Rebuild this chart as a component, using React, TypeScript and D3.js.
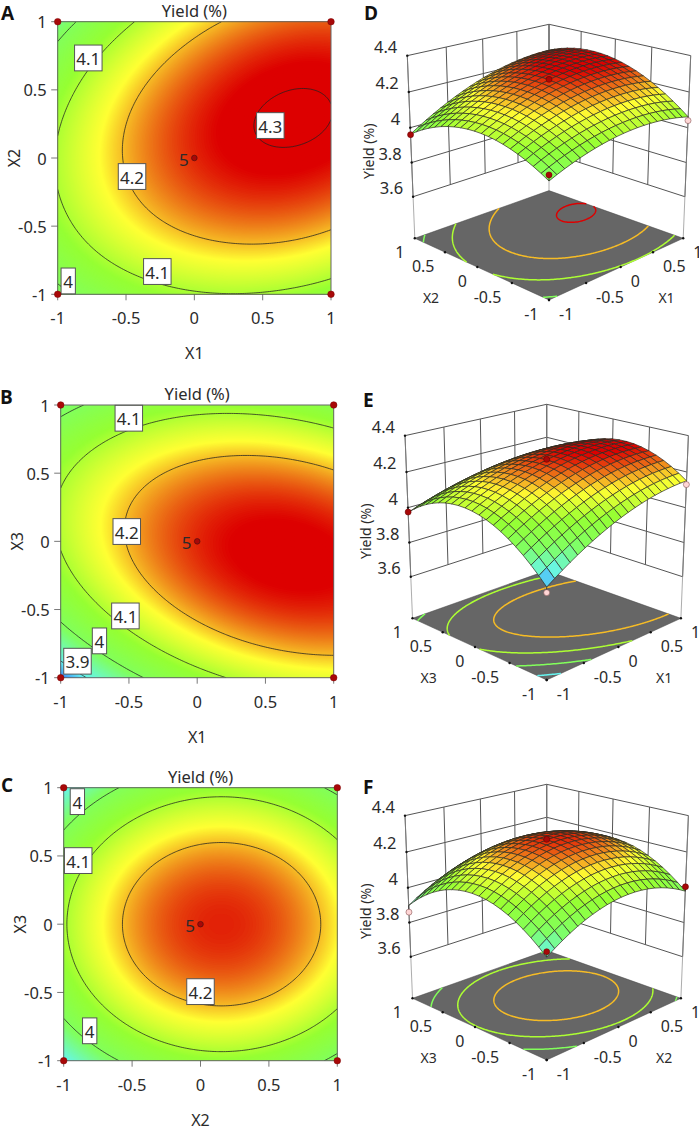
import React from "react";
import * as d3 from "d3";

// Yield, rows from y = -1 up to y = 1, columns from x = -1 to x = 1
const gridNodes = [-1, -0.5, 0, 0.5, 1];
const yieldX1X2 = [
  [3.981, 4.055, 4.093, 4.095, 4.061],
  [4.076, 4.163, 4.213, 4.228, 4.206],
  [4.105, 4.204, 4.267, 4.294, 4.285],
  [4.067, 4.179, 4.254, 4.294, 4.297],
  [3.963, 4.087, 4.175, 4.227, 4.243],
];
const yieldX1X3 = [
  [3.847, 3.977, 4.071, 4.129, 4.151],
  [4.025, 4.139, 4.218, 4.26, 4.267],
  [4.105, 4.204, 4.267, 4.294, 4.285],
  [4.088, 4.171, 4.219, 4.231, 4.206],
  [3.973, 4.041, 4.073, 4.069, 4.029],
];
const yieldX2X3 = [
  [3.898, 4.018, 4.072, 4.059, 3.98],
  [4.044, 4.164, 4.218, 4.205, 4.126],
  [4.093, 4.213, 4.267, 4.254, 4.175],
  [4.044, 4.164, 4.218, 4.205, 4.126],
  [3.898, 4.018, 4.072, 4.059, 3.98],
];
const axisTicks = [-1, -0.5, 0, 0.5, 1];
const yieldTicks = [3.6, 3.8, 4, 4.2, 4.4];
const contourLevels = [3.9, 4, 4.1, 4.2, 4.3];
const colorStops = [3.84, 3.9, 3.99, 4.08, 4.17, 4.285];
const colorValues = ["#2f6cff", "#66f5f0", "#80ff60", "#96ff33", "#ffff33", "#dd0000"];

// contour labels: value, x, y
const labelsA: [string, number, number][] = [["4.1", -0.776, 0.734], ["4.2", -0.456, -0.136], ["4.3", 0.556, 0.238], ["4.1", -0.271, -0.833], ["4", -0.923, -0.902]];
const labelsB: [string, number, number][] = [["4.1", -0.501, 0.903], ["4.2", -0.516, 0.072], ["4.1", -0.526, -0.547], ["4", -0.716, -0.73], ["3.9", -0.877, -0.879]];
const labelsC: [string, number, number][] = [["4", -0.9, 0.898], ["4.1", -0.894, 0.466], ["4.2", 0, -0.494], ["4", -0.81, -0.781]];
const cornerPoints: [number, number][] = [[-1, -1], [-1, 1], [1, -1], [1, 1]];

// measured runs on the 3D plots: x, y, yield, above the surface or not
const runsD: [number, number, number, boolean][] = [[-1, 1, 3.96, true], [1, -1, 4.04, false], [-1, -1, 4.012, true], [0, 0, 4.27, true]];
const runsE: [number, number, number, boolean][] = [[-1, 1, 3.975, true], [1, -1, 4.13, false], [-1, -1, 3.818, false], [0, 0, 4.27, true]];
const runsF: [number, number, number, boolean][] = [[-1, 1, 3.86, false], [1, -1, 4.005, true], [-1, -1, 3.926, true], [0, 0, 4.27, true]];

const FONT = "'Noto Sans', 'Open Sans', sans-serif";
const INK = "#2b2b2b";
const color = d3.scaleLinear<string>().domain(colorStops).range(colorValues).clamp(true);

const lagrange = (t: number) =>
  gridNodes.map((n, i) => gridNodes.reduce((p, m, j) => (j === i ? p : (p * (t - m)) / (n - m)), 1));
const surface = (table: number[][]) => (x: number, y: number) => {
  const wx = lagrange(x);
  const wy = lagrange(y);
  return d3.sum(table, (row, j) => wy[j] * d3.sum(row, (v, i) => wx[i] * v));
};

const N = 121;
const gridScale = d3.scaleLinear().domain([0.5, N - 0.5]).range([-1, 1]);
function gridValues(f: (x: number, y: number) => number) {
  const vals = new Array(N * N);
  for (let j = 0; j < N; j++) for (let i = 0; i < N; i++) vals[i + j * N] = f(gridScale(i + 0.5), gridScale(j + 0.5));
  return vals as number[];
}
// pieces of an iso-line, in data coordinates, without the parts running along the border
function isoLines(vals: number[], level: number): [number, number][][] {
  const geo = d3.contours().size([N, N]).contour(vals, level);
  const out: [number, number][][] = [];
  const eps = 1e-6;
  geo.coordinates.forEach((poly) =>
    poly.forEach((ring) => {
      let cur: [number, number][] = [];
      ring.forEach(([a, b]) => {
        const ok = a >= 0.5 - eps && a <= N - 0.5 + eps && b >= 0.5 - eps && b <= N - 0.5 + eps;
        if (ok) cur.push([gridScale(a), gridScale(b)]);
        else {
          if (cur.length > 1) out.push(cur);
          cur = [];
        }
      });
      if (cur.length > 1) out.push(cur);
    })
  );
  return out;
}

function Panel2D(props: {
  id: string; letter: string; letterX: number; letterY: number;
  x0: number; x1: number; y0: number; y1: number;
  xName: string; yName: string; table: number[][]; labels: [string, number, number][];
}) {
  const { id, letter, letterX, letterY, x0, x1, y0, y1, xName, yName, table, labels } = props;
  const sx = d3.scaleLinear().domain([-1, 1]).range([x0, x1]);
  const sy = d3.scaleLinear().domain([-1, 1]).range([y1, y0]);
  const vals = gridValues(surface(table));
  const gen = d3.contours().size([N, N]);
  const path = d3.geoPath(
    d3.geoTransform({
      point(a: number, b: number) {
        (this as any).stream.point(sx(gridScale(a)), sy(gridScale(b)));
      },
    })
  );
  const bands = d3.range(3.84, 4.31, 0.0015);
  const line = d3.line<[number, number]>().x((d) => sx(d[0])).y((d) => sy(d[1]));
  const text = { fontFamily: FONT, fill: INK };
  return (
    <g>
      <clipPath id={id}><rect x={x0} y={y0} width={x1 - x0} height={y1 - y0} /></clipPath>
      <g clipPath={`url(#${id})`}>
        <rect x={x0} y={y0} width={x1 - x0} height={y1 - y0} fill={color(3.84)} />
        {bands.map((t) => (
          <path key={t} d={path(gen.contour(vals, t) as any) || ""} fill={color(t + 0.00075)} />
        ))}
        {contourLevels.flatMap((lv) =>
          isoLines(vals, lv).map((seg, i) => (
            <path key={lv + "-" + i} d={line(seg) || ""} fill="none" stroke="#222" strokeWidth={0.75} />
          ))
        )}
      </g>
      <rect x={x0} y={y0} width={x1 - x0} height={y1 - y0} fill="none" stroke="#666" strokeWidth={1} />
      {axisTicks.map((t) => (
        <g key={t}>
          <line x1={sx(t)} x2={sx(t)} y1={y1} y2={y1 + 6} stroke="#555" strokeWidth={0.8} />
          <line x1={x0 - 6.5} x2={x0} y1={sy(t)} y2={sy(t)} stroke="#555" strokeWidth={0.8} />
          <text {...text} x={sx(t)} y={y1 + 23.5} fontSize={16.5} textAnchor="middle" dominantBaseline="central">{String(t)}</text>
          <text {...text} x={x0 - 11} y={sy(t)} fontSize={16.5} textAnchor="end" dominantBaseline="central">{String(t)}</text>
        </g>
      ))}
      <text {...text} x={(x0 + x1) / 2} y={y0 - 11.5} fontSize={16.5} textAnchor="middle" dominantBaseline="central">Yield (%)</text>
      <text {...text} x={(x0 + x1) / 2} y={y1 + 59} fontSize={16} textAnchor="middle" dominantBaseline="central">{xName}</text>
      <text {...text} transform={`translate(${x0 - 43.7},${(y0 + y1) / 2}) rotate(-90)`} fontSize={16} textAnchor="middle" dominantBaseline="central">{yName}</text>
      {labels.map(([lab, lx, ly], i) => {
        const w = lab.length > 1 ? 27.5 : 14.3;
        return (
          <g key={i}>
            <rect x={sx(lx) - w / 2} y={sy(ly) - 12.9} width={w} height={25.8} fill="#fff" stroke="#555" strokeWidth={1} />
            <text {...text} x={sx(lx)} y={sy(ly) + 0.5} fontSize={17} textAnchor="middle" dominantBaseline="central">{lab}</text>
          </g>
        );
      })}
      {cornerPoints.map(([a, b], i) => (
        <circle key={i} cx={sx(a)} cy={sy(b)} r={3.3} fill="#a80808" stroke="#7a0000" strokeWidth={0.5} />
      ))}
      <circle cx={sx(0)} cy={sy(0)} r={2.8} fill="#a80808" stroke="#501010" strokeWidth={0.7} />
      <text {...text} x={sx(0) - 10.5} y={sy(0) + 1.5} fontSize={17} textAnchor="middle" dominantBaseline="central">5</text>
      <text x={letterX} y={letterY} fontFamily="'Open Sans', sans-serif" fontWeight={700} fontSize={19} fill="#111" dominantBaseline="central">{letter}</text>
    </g>
  );
}

function Panel3D(props: {
  letter: string; letterX: number; letterY: number; cx: number; floorY: number;
  xName: string; yName: string; table: number[][]; runs: [number, number, number, boolean][];
}) {
  const { letter, letterX, letterY, cx, floorY, xName, yName, table, runs } = props;
  const heightOf = d3.scaleLinear().domain([3.351, 4.4]).range([0, 1]);
  const project = (u: number, v: number, z: number): [number, number] => {
    const h = u - v;
    const d = u + v;
    const t = heightOf(z);
    const w = 1 + 0.064 * d - 0.0529 * t;
    return [cx + (67.1 * h) / w, floorY + (-26.9 * d - 173 * t - 1.63 * d * t) / w];
  };
  const f = surface(table);
  const vals = gridValues(f);
  const floor = 3.351;
  const top = 4.4;
  const cellEdges = d3.range(21).map((i) => -1 + i / 10);
  const cells: { u: number; v: number; path: string; z: number }[] = [];
  const shape = d3.line();
  for (let i = 0; i < 20; i++)
    for (let j = 0; j < 20; j++) {
      const [a, b] = [cellEdges[i], cellEdges[i + 1]];
      const [c, e] = [cellEdges[j], cellEdges[j + 1]];
      const zs = [f(a, c), f(b, c), f(b, e), f(a, e)];
      cells.push({
        u: a,
        v: c,
        z: d3.mean(zs) as number,
        path: (shape([project(a, c, zs[0]), project(b, c, zs[1]), project(b, e, zs[2]), project(a, e, zs[3])]) || "") + "Z",
      });
    }
  cells.sort((p, q) => q.u + q.v - (p.u + p.v));
  const seg = (p: [number, number], q: [number, number], k: string, sw = 1, col = "#555") => (
    <line key={k} x1={p[0]} y1={p[1]} x2={q[0]} y2={q[1]} stroke={col} strokeWidth={sw} />
  );
  const text = { fontFamily: FONT, fill: INK };
  const [, frontFloorY] = project(-1, -1, floor);
  const line3 = d3.line<[number, number]>().x((d) => project(d[0], d[1], floor)[0]).y((d) => project(d[0], d[1], floor)[1]);
  const pointOf = (r: [number, number, number, boolean]) => project(r[0], r[1], r[2]);
  return (
    <g>
      {/* walls */}
      {axisTicks.map((t) => seg(project(t, 1, 3.6), project(t, 1, top), "a" + t))}
      {axisTicks.map((t) => seg(project(1, t, 3.6), project(1, t, top), "b" + t))}
      {yieldTicks.map((z) => (
        <g key={z}>
          {seg(project(-1, 1, z), project(1, 1, z), "l")}
          {seg(project(1, 1, z), project(1, -1, z), "r")}
        </g>
      ))}
      {seg(project(-1, 1, floor), project(-1, 1, top), "c1", 0.7, "#888")}
      {seg(project(1, 1, floor), project(1, 1, top), "c2", 0.7, "#888")}
      {seg(project(1, -1, floor), project(1, -1, top), "c3", 0.7, "#888")}
      {/* floor */}
      <path
        d={(d3.line()([project(-1, 1, floor), project(1, 1, floor), project(1, -1, floor), project(-1, -1, floor)]) || "") + "Z"}
        fill="#666666"
        stroke="#444"
        strokeWidth={0.5}
      />
      {contourLevels.flatMap((lv) =>
        isoLines(vals, lv).map((s, i) => (
          <path key={lv + "-" + i} d={line3(s) || ""} fill="none" stroke={color(lv)} strokeWidth={1.5} />
        ))
      )}
      {/* floor ticks and labels */}
      {axisTicks.map((t) => {
        const l = project(-1, t, floor);
        const r = project(t, -1, floor);
        return (
          <g key={t}>
            <circle cx={l[0]} cy={l[1]} r={1.2} fill="#111" />
            <circle cx={r[0]} cy={r[1]} r={1.2} fill="#111" />
            <text {...text} x={l[0] - 10.5} y={l[1] + 14} fontSize={16} textAnchor="end" dominantBaseline="central">{String(t)}</text>
            <text {...text} x={r[0] + 10} y={r[1] + 14} fontSize={16} textAnchor="start" dominantBaseline="central">{String(t)}</text>
          </g>
        );
      })}
      <text {...text} x={cx - 118} y={frontFloorY - 2} fontSize={14} textAnchor="middle" dominantBaseline="central">{yName}</text>
      <text {...text} x={cx + 117.5} y={frontFloorY - 2} fontSize={14} textAnchor="middle" dominantBaseline="central">{xName}</text>
      {/* yield axis */}
      {yieldTicks.map((z) => {
        const p = project(-1, 1, z);
        return (
          <g key={z}>
            <circle cx={p[0]} cy={p[1]} r={1.2} fill="#111" />
            <text {...text} x={p[0] - 10} y={p[1] - 9.5} fontSize={16.5} textAnchor="end" dominantBaseline="central">{String(z)}</text>
          </g>
        );
      })}
      <text {...text} transform={`translate(${cx - 181},${floorY - 87}) rotate(-90)`} fontSize={14} textAnchor="middle" dominantBaseline="central">Yield (%)</text>
      {/* runs below the surface */}
      {runs.filter((r) => !r[3]).map((r, i) => {
        const p = pointOf(r);
        return (
          <g key={i}>
            {seg(p, project(r[0], r[1], f(r[0], r[1])), "s", 0.8, "#222")}
          </g>
        );
      })}
      {/* surface */}
      {cells.map((c, i) => (
        <path key={i} d={c.path} fill={color(c.z)} stroke="#2c2c22" strokeWidth={0.7} strokeLinejoin="round" />
      ))}
      {runs.map((r, i) => {
        const p = pointOf(r);
        return (
          <g key={i}>
            {r[3] && seg(p, project(r[0], r[1], f(r[0], r[1])), "s", 0.8, "#222")}
            <circle cx={p[0]} cy={p[1]} r={3} fill={r[3] ? "#a80808" : "#ffd6d6"} stroke={r[3] ? "#6a0000" : "#885555"} strokeWidth={0.6} />
          </g>
        );
      })}
      <text x={letterX} y={letterY} fontFamily="'Open Sans', sans-serif" fontWeight={700} fontSize={19} fill="#111" dominantBaseline="central">{letter}</text>
    </g>
  );
}

export default function App() {
  return (
    <svg width={699} height={1129} viewBox="0 0 699 1129" style={{ position: "absolute", left: 0, top: 0, display: "block", background: "#fff" }}>
      <Panel2D id="clipA" letter="A" letterX={1} letterY={13} x0={57.7} x1={331} y0={21.7} y1={294.3} xName="X1" yName="X2" table={yieldX1X2} labels={labelsA} />
      <Panel2D id="clipB" letter="B" letterX={0} letterY={397} x0={60.7} x1={333.7} y0={405} y1={677.7} xName="X1" yName="X3" table={yieldX1X3} labels={labelsB} />
      <Panel2D id="clipC" letter="C" letterX={1} letterY={785} x0={63.7} x1={337.3} y0={787.7} y1={1060.7} xName="X2" yName="X3" table={yieldX2X3} labels={labelsC} />
      <Panel3D letter="D" letterX={364} letterY={13} cx={549} floorY={238.3} xName="X1" yName="X2" table={yieldX1X2} runs={runsD} />
      <Panel3D letter="E" letterX={363} letterY={400} cx={546.7} floorY={618.3} xName="X1" yName="X3" table={yieldX1X3} runs={runsE} />
      <Panel3D letter="F" letterX={363} letterY={787} cx={546.7} floorY={998.3} xName="X2" yName="X3" table={yieldX2X3} runs={runsF} />
    </svg>
  );
}
